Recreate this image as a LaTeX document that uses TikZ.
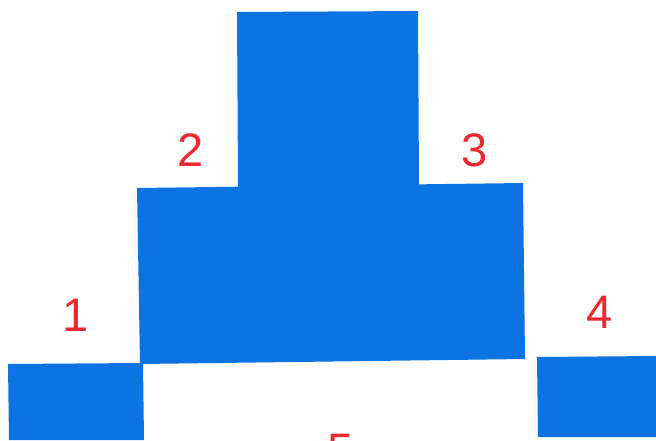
\documentclass[tikz,border=0pt]{standalone}
\usepackage{fontspec}
\setmainfont{Liberation Sans}
\definecolor{blk}{RGB}{12,116,226}
\definecolor{lbl}{RGB}{236,40,48}
\tikzset{
  block/.style={fill=blk, draw=none},
  num/.style={text=lbl, inner sep=0pt, font=\fontsize{47}{47}\selectfont, text height=34pt, text depth=0pt, anchor=center}
}
\begin{document}
\begin{tikzpicture}[x=1pt,y=-1pt]
\useasboundingbox (0,0) rectangle (656,440);
\clip (0,0) rectangle (656,440);
\fill[white] (0,0) rectangle (656,440);
% top square
\fill[block] (237,12) -- (418,11) -- (419,186) -- (238,187) -- cycle;
% middle rectangle
\fill[block] (137,188) -- (523,183) -- (525,359) -- (140,364) -- cycle;
% bottom left
\fill[block] (8,364) -- (143,363) -- (144,440) -- (9,440) -- cycle;
% bottom right
\fill[block] (537,357) -- (656,356) -- (656,437) -- (538,437) -- cycle;
% labels
\node[num] (n2) at (191,149) {2};
\node[num] (n3) at (474.5,149) {3};
\node[num] (n1) at (76,314.5) {1};
\node[num] (n4) at (600,311.5) {4};
\node[num] (n5) at (341,449) {5};
\end{tikzpicture}
\end{document}
